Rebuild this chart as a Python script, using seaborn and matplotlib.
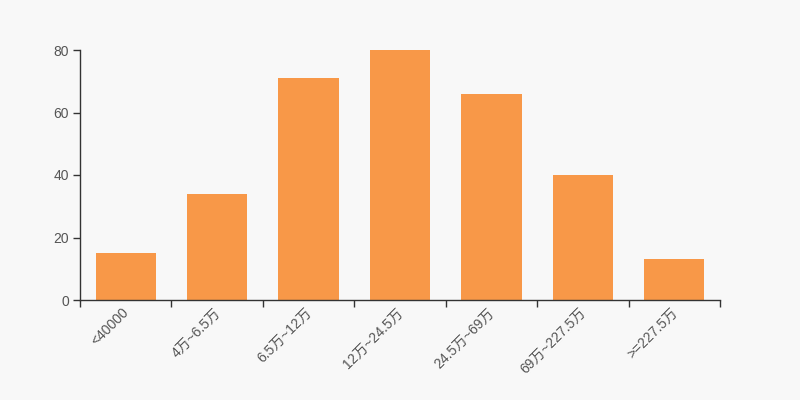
import matplotlib
matplotlib.use("Agg")
import matplotlib.pyplot as plt
import matplotlib.transforms as mtransforms
import seaborn as sns
import numpy as np
import pandas as pd

categories = ["<40000", "4万~6.5万", "6.5万~12万", "12万~24.5万", "24.5万~69万", "69万~227.5万", ">=227.5万"]
values = [15, 34, 71, 80, 66, 40, 13]
y_ticks = [0, 20, 40, 60, 80]

sns.set_style("white")
plt.rcParams['font.family'] = ['Liberation Sans', 'Noto Sans CJK SC', 'DejaVu Sans']

bg = "#f8f8f8"
fig = plt.figure(figsize=(8, 4), dpi=100, facecolor=bg)
ax = fig.add_axes([0.1, 0.25, 0.8, 0.625])
ax.set_facecolor(bg)

df = pd.DataFrame({"cat": categories, "val": values})
sns.barplot(data=df, x="cat", y="val", color="#f89848", saturation=1, width=0.66,
            edgecolor="none", ax=ax)

ax.set_xlim(-0.5, len(categories) - 0.5)
ax.set_ylim(0, 80)
ax.set_yticks(y_ticks)
ax.set_xlabel("")
ax.set_ylabel("")

for s in ["top", "right"]:
    ax.spines[s].set_visible(False)
for s in ["left", "bottom"]:
    ax.spines[s].set_color("#333333")
    ax.spines[s].set_linewidth(1)

ax.tick_params(axis="y", left=True, length=5, width=1, color="#333333", labelcolor="#555555", labelsize=10, pad=3)
ax.tick_params(axis="x", which="major", bottom=True, length=0, labelcolor="#555555", labelsize=10, pad=4)
ax.set_xticks(np.arange(-0.5, len(categories)), minor=True)
ax.tick_params(axis="x", which="minor", bottom=True, length=5, width=1, color="#333333")
offset = mtransforms.ScaledTranslation(-4 / 100, 0, fig.dpi_scale_trans)
for lbl in ax.get_xticklabels():
    lbl.set_rotation(45)
    lbl.set_ha("right")
    lbl.set_rotation_mode("anchor")
    lbl.set_transform(lbl.get_transform() + offset)

fig.savefig("out.png", dpi=100, facecolor=bg)
